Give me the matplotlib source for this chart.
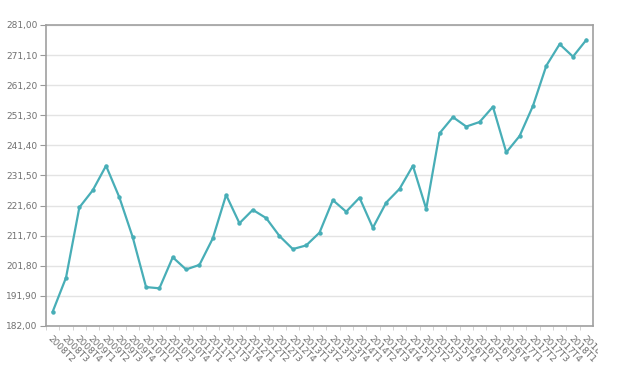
import numpy as np
import matplotlib.pyplot as plt
from matplotlib.patches import Rectangle

quarters = ['2008T2', '2008T3', '2008T4',
            '2009T1', '2009T2', '2009T3', '2009T4',
            '2010T1', '2010T2', '2010T3', '2010T4',
            '2011T1', '2011T2', '2011T3', '2011T4',
            '2012T1', '2012T2', '2012T3', '2012T4',
            '2013T1', '2013T2', '2013T3', '2013T4',
            '2014T1', '2014T2', '2014T3', '2014T4',
            '2015T1', '2015T2', '2015T3', '2015T4',
            '2016T1', '2016T2', '2016T3', '2016T4',
            '2017T1', '2017T2', '2017T3', '2017T4',
            '2018T1', '2018T2']

values = [186.7, 197.9, 221.0, 226.6, 234.7, 224.3, 211.2, 194.8, 194.4, 204.6,
          200.6, 202.1, 210.8, 225.1, 215.8, 220.2, 217.5, 211.6, 207.3, 208.5,
          212.7, 223.4, 219.6, 224.2, 214.3, 222.6, 227.1, 234.7, 220.5, 245.4,
          250.7, 247.6, 249.1, 254.1, 239.1, 244.5, 254.4, 267.6, 274.7, 270.6,
          276.1]

yticks = [182.00, 191.90, 201.80, 211.70, 221.60, 231.50,
          241.40, 251.30, 261.20, 271.10, 281.00]

fig = plt.figure(figsize=(6.2, 3.68), dpi=100)
ax = fig.add_axes([46/620, 42/368, 547/620, 301/368])

x = np.arange(len(quarters))
ax.plot(x, values, color='#48aeb7', linewidth=1.6, marker='o', markersize=3.2,
        markeredgewidth=0, zorder=3)

ax.set_xlim(-0.5, len(quarters) - 0.5)
ax.set_ylim(yticks[0], yticks[-1])
ax.set_yticks(yticks)
ax.set_yticklabels([('%.2f' % v).replace('.', ',') for v in yticks])
ax.grid(True, axis='y', color='#e3e3e3', linewidth=1)
ax.set_axisbelow(True)

ax.set_xticks(x)
labels = ax.set_xticklabels(quarters, rotation=-45, ha='left', va='top',
                            rotation_mode='anchor')
ax.set_xticks(x - 0.5, minor=True)
ax.tick_params(axis='x', which='major', length=0, pad=6, labelsize=6.5,
               labelcolor='#707070')
ax.tick_params(axis='x', which='minor', length=3, color='#cccccc')
ax.tick_params(axis='y', length=4, color='#999999', labelsize=6.5,
               labelcolor='#707070', pad=2)

for side in ['left', 'bottom', 'top', 'right']:
    ax.spines[side].set_color('#a0a0a0')
    ax.spines[side].set_linewidth(1.2)

# last label is cut off at the right edge in the original
clip = Rectangle((0, 0), 598, 368, transform=None)
for lab in labels:
    lab.set_clip_on(True)
    lab.set_clip_path(clip)

fig.savefig('out.png', dpi=100)
